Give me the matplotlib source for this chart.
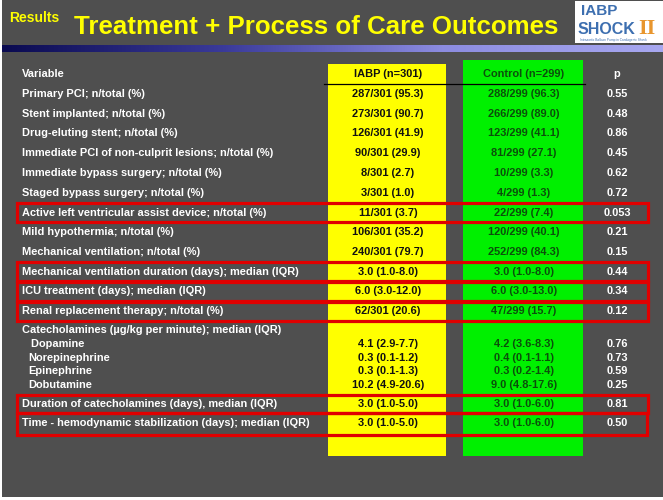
import matplotlib
matplotlib.use("Agg")
import matplotlib.pyplot as plt
from matplotlib.patches import Rectangle
from matplotlib.colors import LinearSegmentedColormap
import numpy as np

# ---------------- data ----------------
variables = [
    "Primary PCI; n/total (%)",
    "Stent implanted; n/total (%)",
    "Drug-eluting stent; n/total (%)",
    "Immediate PCI of non-culprit lesions; n/total (%)",
    "Immediate bypass surgery; n/total (%)",
    "Staged bypass surgery; n/total (%)",
    "Active left ventricular assist device; n/total (%)",
    "Mild hypothermia; n/total (%)",
    "Mechanical ventilation; n/total (%)",
    "Mechanical ventilation duration (days); median (IQR)",
    "ICU treatment (days); median (IQR)",
    "Renal replacement therapy; n/total (%)",
]
iabp = ["287/301 (95.3)", "273/301 (90.7)", "126/301 (41.9)", "90/301 (29.9)",
        "8/301 (2.7)", "3/301 (1.0)", "11/301 (3.7)", "106/301 (35.2)",
        "240/301 (79.7)", "3.0 (1.0-8.0)", "6.0 (3.0-12.0)", "62/301 (20.6)"]
control = ["288/299 (96.3)", "266/299 (89.0)", "123/299 (41.1)", "81/299 (27.1)",
           "10/299 (3.3)", "4/299 (1.3)", "22/299 (7.4)", "120/299 (40.1)",
           "252/299 (84.3)", "3.0 (1.0-8.0)", "6.0 (3.0-13.0)", "47/299 (15.7)"]
pvals = ["0.55", "0.48", "0.86", "0.45", "0.62", "0.72", "0.053", "0.21",
         "0.15", "0.44", "0.34", "0.12"]
boxed = [False, False, False, False, False, False, True, False, False, True, True, True]

cat_header = "Catecholamines (\u00b5g/kg per minute); median (IQR)"
cat_drugs = [" Dopamine", "Norepinephrine", "Epinephrine", "Dobutamine"]
cat_iabp = ["4.1 (2.9-7.7)", "0.3 (0.1-1.2)", "0.3 (0.1-1.3)", "10.2 (4.9-20.6)"]
cat_control = ["4.2 (3.6-8.3)", "0.4 (0.1-1.1)", "0.3 (0.2-1.4)", "9.0 (4.8-17.6)"]
cat_p = ["0.76", "0.73", "0.59", "0.25"]

tail_vars = ["Duration of catecholamines (days), median (IQR)",
             "Time - hemodynamic stabilization (days); median (IQR)"]
tail_iabp = ["3.0 (1.0-5.0)", "3.0 (1.0-5.0)"]
tail_control = ["3.0 (1.0-6.0)", "3.0 (1.0-6.0)"]
tail_p = ["0.81", "0.50"]

headers = ["Variable", "IABP (n=301)", "Control (n=299)", "p"]
title = "Treatment + Process of Care Outcomes"
section = "Results"

# ---------------- figure ----------------
W, H = 663, 500
fig = plt.figure(figsize=(W / 100, H / 100), dpi=100)
fig.patch.set_facecolor("white")
ax = fig.add_axes([0, 0, 1, 1])
ax.set_xlim(0, W)
ax.set_ylim(H, 0)
ax.axis("off")

BG = "#4f4f4f"
ax.add_patch(Rectangle((2, 0), W - 2, 497, facecolor=BG, edgecolor="none", zorder=0))

# gradient bar
grad = np.linspace(0, 1, 256).reshape(1, -1)
cmap = LinearSegmentedColormap.from_list("g", ["#0a0a50", "#3a3a9a", "#8c8ce0", "#a8a8f0"])
ax.imshow(grad, cmap=cmap, extent=(2, W, 52, 45), aspect="auto", zorder=1)

FONT = "Liberation Sans"
YEL = "#ffff00"

ax.text(9, 18, section, color=YEL, fontsize=10, fontweight="bold", family=FONT,
        va="center", ha="left", zorder=3)
ax.text(74, 27, title, color=YEL, fontsize=18.6, fontweight="bold", family=FONT,
        va="center", ha="left", zorder=3)

# logo
ax.add_patch(Rectangle((575, 1), 88, 42, facecolor="white", edgecolor="none", zorder=2))
ax.text(581, 11, "IABP", color="#3d6fb0", fontsize=11, fontweight="bold", family=FONT,
        va="center", ha="left", zorder=3)
ax.text(578, 29, "SHOCK", color="#3d6fb0", fontsize=11.5, fontweight="bold", family=FONT,
        va="center", ha="left", zorder=3)
ax.text(638, 29, "II", color="#e8962e", fontsize=16, fontweight="bold", family="Liberation Serif",
        va="center", ha="left", zorder=3)
ax.text(580, 40, "Intraaortic Balloon Pump in Cardiogenic Shock", color="#3d6fb0",
        fontsize=2.3, family=FONT, va="center", ha="left", zorder=3)

# columns
YX0, YX1 = 328, 446
GX0, GX1 = 463, 583
ax.add_patch(Rectangle((YX0, 64), YX1 - YX0, 456 - 64, facecolor="#ffff00", edgecolor="none", zorder=1))
ax.add_patch(Rectangle((GX0, 60), GX1 - GX0, 456 - 60, facecolor="#00f000", edgecolor="none", zorder=1))
ax.plot([324, 585], [84, 84], color="black", lw=0.9, zorder=2)

XL = 22
XI = (YX0 + YX1) / 2 + 1
XC = (GX0 + GX1) / 2 + 1
XP = 617
FS = 7.9
TXT = "white"
DK = "#111111"
GR = "#0b4f0b"


def row(y, label, a, b, p, xl=XL):
    ax.text(xl, y, label, color=TXT, fontsize=FS, fontweight="bold", family=FONT,
            va="center", ha="left", zorder=3)
    ax.text(XI, y, a, color=DK, fontsize=FS, fontweight="bold", family=FONT,
            va="center", ha="center", zorder=3)
    ax.text(XC, y, b, color=GR, fontsize=FS, fontweight="bold", family=FONT,
            va="center", ha="center", zorder=3)
    ax.text(XP, y, p, color=TXT, fontsize=FS, fontweight="bold", family=FONT,
            va="center", ha="center", zorder=3)


def box(y0, y1, x0=17, x1=648):
    ax.add_patch(Rectangle((x0, y0), x1 - x0, y1 - y0, facecolor="none",
                           edgecolor="#e00000", lw=2.3, zorder=4))


# header
ax.text(XL, 74, headers[0], color=TXT, fontsize=FS, fontweight="bold", family=FONT, va="center", zorder=3)
ax.text(XI, 74, headers[1], color=DK, fontsize=FS, fontweight="bold", family=FONT, va="center", ha="center", zorder=3)
ax.text(XC, 74, headers[2], color=GR, fontsize=FS, fontweight="bold", family=FONT, va="center", ha="center", zorder=3)
ax.text(XP, 74, headers[3], color=TXT, fontsize=FS, fontweight="bold", family=FONT, va="center", ha="center", zorder=3)

STEP = 19.75
y0 = 94
for i, (v, a, b, p, bx) in enumerate(zip(variables, iabp, control, pvals, boxed)):
    y = y0 + i * STEP
    row(y, v, a, b, p)
    if bx:
        box(y - 9.5, y + 9.5)

ycat = y0 + len(variables) * STEP - 1
ax.text(XL, ycat, cat_header, color=TXT, fontsize=FS, fontweight="bold", family=FONT,
        va="center", ha="left", zorder=3)
SUB = 13.7
for j, (d, a, b, p) in enumerate(zip(cat_drugs, cat_iabp, cat_control, cat_p)):
    y = ycat + 14 + j * SUB
    row(y, d, a, b, p, xl=XL + 6)

ytail = ycat + 14 + 3 * SUB + 18.5
for k, (v, a, b, p) in enumerate(zip(tail_vars, tail_iabp, tail_control, tail_p)):
    y = ytail + k * 19
    row(y, v, a, b, p)
box(ytail - 9, ytail + 9.5)
box(ytail + 9.5, ytail + 19 + 12, x1=647)

fig.savefig("out.png", dpi=100, facecolor=fig.get_facecolor())
